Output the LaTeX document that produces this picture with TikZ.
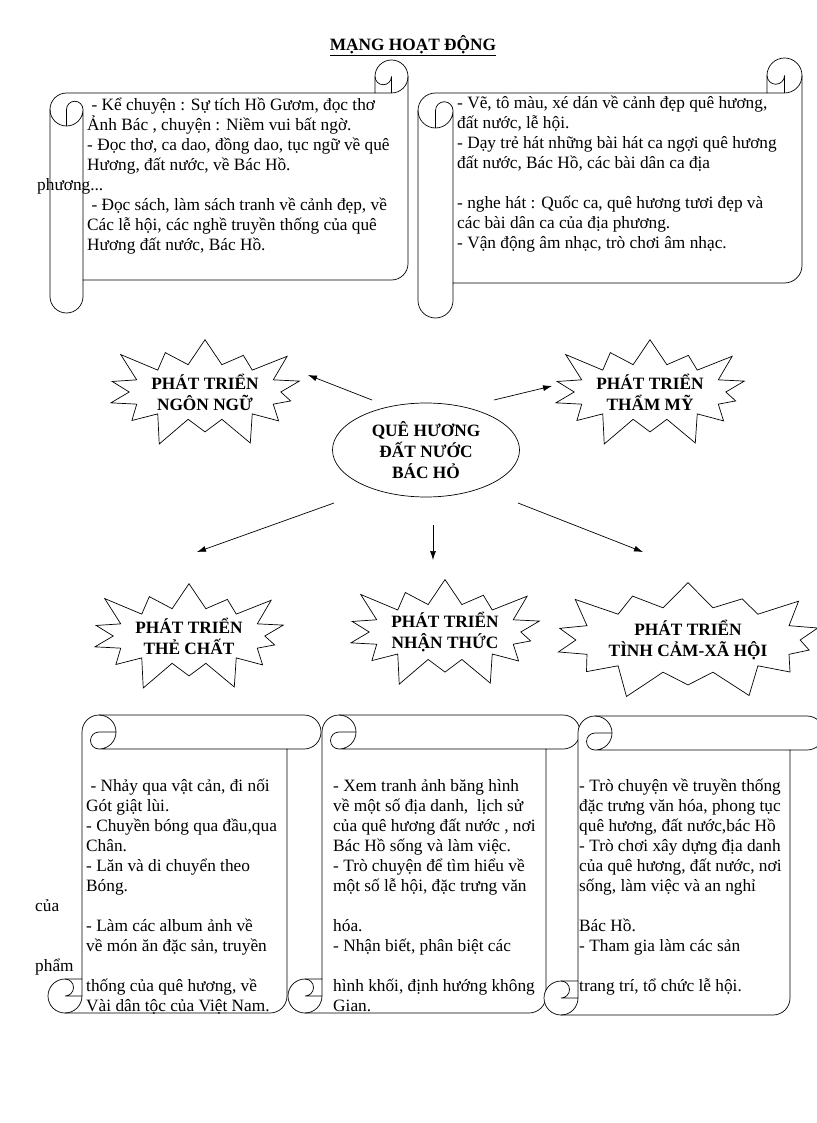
\documentclass[tikz,border=0pt]{standalone}
\usepackage{fontspec}
\setmainfont{Liberation Serif}
\usepackage{tikz}
\usetikzlibrary{
	arrows.meta,
	positioning,
	shapes.geometric,
	shapes.symbols
}
\tikzset{
	x=1pt, y=-1pt,
	every edge/.append style={
		-{Latex[length=9pt,width=6pt]}, line width=0.7pt
	},
	scroll/.style={line width=0.7pt, fill=white},
	roll/.style={line width=0.7pt},
	lines/.style={anchor=north west, inner sep=0pt, align=left,
		font=\fontsize{17.3}{20}\selectfont},
	burst/.style={starburst, draw, line width=0.7pt, starburst points=14,
		starburst point height=34pt, minimum width=214pt, minimum height=124pt,
		inner sep=0pt, align=center, font=\bfseries\fontsize{17.3}{21}\selectfont},
	hub/.style={ellipse, draw, line width=0.7pt, minimum width=187pt,
		minimum height=94pt, inner sep=0pt, align=center,
		font=\bfseries\fontsize{17.3}{21}\selectfont}
}
% scroll outline: tube along the top, roll at the bottom left
\newcommand{\scrollpath}[3]{%
	\pgfmathsetmacro{\sw}{#1}\pgfmathsetmacro{\sh}{#2}%
	\pgfmathsetmacro{\sc}{#3}\pgfmathsetmacro{\sct}{#3/2}\pgfmathsetmacro{\scq}{#3/4}%
	\filldraw[scroll]
		(\sc,\sh-\sc) -- (\sc,\sct) arc[start angle=180,end angle=270,radius=\sct]
		-- (\sw-\sct,0) arc[start angle=270,end angle=450,radius=\sct]
		-- (\sw-\sc,\sc) -- (\sw-\sc,\sh-\sct) arc[start angle=0,end angle=90,radius=\sct]
		-- (\sct,\sh) arc[start angle=90,end angle=270,radius=\sct] -- cycle;
	\draw[roll]
		(\sc+\sct,0) arc[start angle=270,end angle=450,radius=\sct]
			arc[start angle=90,end angle=270,radius=\scq] -- (2*\sc,\sct)
		(\sw-\sc,\sc) -- (\sc+\sct,\sc)
		(\sct,\sh-\sc) arc[start angle=270,end angle=450,radius=\scq] -- (\sc,\sh-\sct)
		(\sct,\sh) arc[start angle=90,end angle=0,radius=\sct] -- (\sc,\sh-\sc);
}
\begin{document}
\begin{tikzpicture}
	\useasboundingbox (0,0) rectangle (816,1123);

	% scrolls
	\begin{scope}[shift={(50,60)}, cm={0,-1,-1,0,(0,0)}]
		\scrollpath{253}{358}{33}
	\end{scope}
	\begin{scope}[shift={(418,58)}, cm={0,-1,-1,0,(0,0)}]
		\scrollpath{260}{384}{35}
	\end{scope}
	\begin{scope}[shift={(48,715)}]
		\scrollpath{273}{298}{34}
	\end{scope}
	\begin{scope}[shift={(288,715)}]
		\scrollpath{292}{298}{34}
	\end{scope}
	\begin{scope}[shift={(544,716)}]
		\scrollpath{280}{299}{34}
	\end{scope}

	\node [font=\bfseries\fontsize{17.3}{20}\selectfont] (title) at (413,46)
		{\underline{MẠNG HOẠT ĐỘNG}};

	\node [lines] (tl) at (87,98) {%
		\ - Kể chuyện : Sự tích Hồ Gươm, đọc thơ\\
		Ảnh Bác , chuyện : Niềm vui bất ngờ.\\
		- Đọc thơ, ca dao, đồng dao, tục ngữ về quê\\
		Hương, đất nước, về Bác Hồ.\\
		\hspace*{-50pt}phương...\\
		\ - Đọc sách, làm sách tranh về cảnh đẹp, về\\
		Các lễ hội, các nghề truyền thống của quê\\
		Hương đất nước, Bác Hồ.};
	\node [lines] (tr) at (457,96) {%
		- Vẽ, tô màu, xé dán về cảnh đẹp quê hương,\\
		đất nước, lễ hội.\\
		- Dạy trẻ hát những bài hát ca ngợi quê hương\\
		đất nước, Bác Hồ, các bài dân ca địa\\
		\mbox{}\\
		- nghe hát : Quốc ca, quê hương tươi đẹp và\\
		các bài dân ca của địa phương.\\
		- Vận động âm nhạc, trò chơi âm nhạc.};

	\node [lines] (b1) at (86,779) {%
		\ - Nhảy qua vật cản, đi nối\\
		Gót giật lùi.\\
		- Chuyền bóng qua đầu,qua\\
		Chân.\\
		- Lăn và di chuyển theo\\
		Bóng.\\
		\hspace*{-51pt}của\\
		- Làm các album ảnh về\\
		về món ăn đặc sản, truyền\\
		\hspace*{-51pt}phẩm\\
		thống của quê hương, về\\
		Vài dân tộc của Việt Nam.};
	\node [lines] (b2) at (333,779) {%
		- Xem tranh ảnh băng hình\\
		về một số địa danh,\ \ lịch sử\\
		của quê hương đất nước , nơi\\
		Bác Hồ sống và làm việc.\\
		- Trò chuyện để tìm hiểu về\\
		một số lễ hội, đặc trưng văn\\
		\mbox{}\\
		hóa.\\
		- Nhận biết, phân biệt các\\
		\mbox{}\\
		hình khối, định hướng không\\
		Gian.};
	\node [lines] (b3) at (579,779) {%
		- Trò chuyện về truyền thống\\
		đặc trưng văn hóa, phong tục\\
		quê hương,\ đất nước,bác\ Hồ\\
		- Trò chơi xây dựng địa danh\\
		của quê hương, đất nước, nơi\\
		sống, làm việc và an nghỉ\\
		\mbox{}\\
		Bác Hồ.\\
		- Tham\ gia làm các sản\\
		\mbox{}\\
		trang trí, tổ chức lễ hội.};

	\draw
		node [hub]                          (qh)       at (426,450) {QUÊ HƯƠNG\\ĐẤT NƯỚC\\BÁC HỎ}
		node [burst,shape border rotate=4]  (ngonngu)  at (205,392) {PHÁT TRIỂN\\NGÔN NGỮ}
		node [burst,shape border rotate=-3] (thammy)   at (650,392) {PHÁT TRIỂN\\THẨM MỸ}
		node [burst,shape border rotate=6]  (thechat)  at (189,636) {PHÁT TRIỂN\\THẺ CHẤT}
		node [burst,shape border rotate=-5] (nhanthuc) at (445,632) {PHÁT TRIỂN\\NHẬN THỨC}
		node [burst,minimum width=226pt,minimum height=134pt,shape border rotate=3]
		                                    (tinhcam)  at (688,640) {PHÁT TRIỂN\\TÌNH CẢM-XÃ HỘI}

		([shift={(-54,-50)}]qh.center) edge ([shift={(103,-17)}]ngonngu.center)
		([shift={(68,-50)}]qh.center)  edge ([shift={(-98,-6)}]thammy.center)
		([shift={(-92,53)}]qh.center)  edge ([shift={(8,-84)}]thechat.center)
		([shift={(7,75)}]qh.center)    edge ([shift={(-12,-72)}]nhanthuc.center)
		([shift={(92,53)}]qh.center)   edge ([shift={(-45,-88)}]tinhcam.center)
	;
\end{tikzpicture}
\end{document}
